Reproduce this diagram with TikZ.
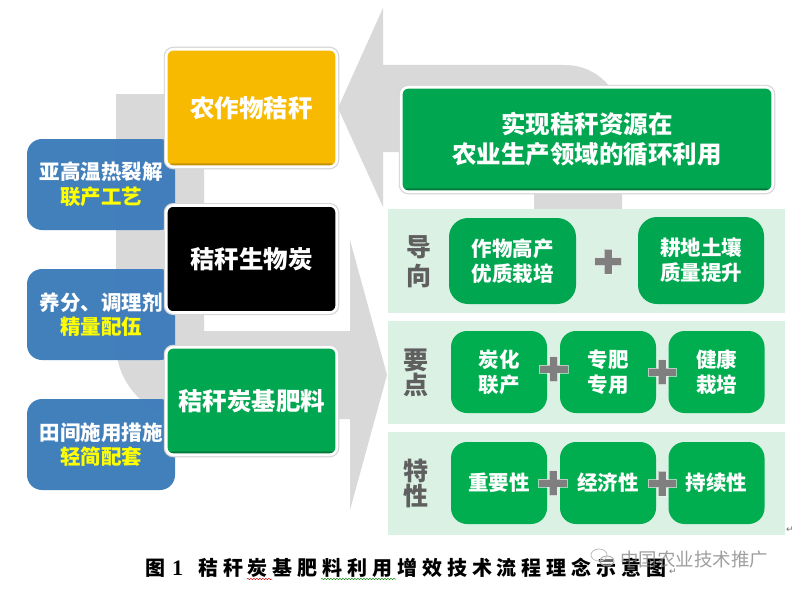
\documentclass[tikz,border=0pt]{standalone}
\usepackage{fontspec}
\setmainfont{Liberation Serif}
\newfontfamily\cjk{Noto Sans CJK SC}
\newfontfamily\capfont[LetterSpace=24.5]{Noto Sans CJK SC}
\newfontfamily\symfont{DejaVu Sans}
\usetikzlibrary{decorations.pathmorphing}
\definecolor{arrowgray}{HTML}{D9D9D9}
\definecolor{panelgreen}{HTML}{DAF1E3}
\definecolor{boxgreen}{HTML}{00AE50}
\definecolor{boxgreenb}{HTML}{00A750}
\definecolor{bevelgreen}{HTML}{007A3A}
\definecolor{boxyellow}{HTML}{F7BA00}
\definecolor{bevelyellow}{HTML}{C49200}
\definecolor{boxblue}{HTML}{3B7BBA}
\definecolor{labelgray}{HTML}{5F5F5F}
\definecolor{plusgray}{HTML}{7F7F7F}
\definecolor{hiyellow}{HTML}{FFFF00}
\tikzset{
  x=1pt,y=-1pt,
  bevelbox/.style n args={3}{draw=white,line width=2.6pt,rounded corners=7pt,
    preaction={draw=black!16,line width=5pt},
    fill=#1,inner sep=0pt,minimum width=#2,minimum height=#3,align=center,
    text=white,font=\cjk\bfseries\fontsize{24.5}{30}\selectfont},
  bevel/.style={path picture={\fill[#1] ([yshift=3.5pt]path picture bounding box.south west) rectangle (path picture bounding box.south east);}},
  bluebox/.style={fill=boxblue,fill opacity=.96,text opacity=1,rounded corners=15pt,inner sep=0pt,
    minimum width=148pt,minimum height=91pt,align=center,text=white,
    font=\cjk\bfseries\fontsize{20.5}{24.5}\selectfont},
  panel/.style={fill=panelgreen,inner sep=0pt,minimum width=397pt,minimum height=#1},
  itembox/.style n args={4}{fill=#1,rounded corners=#4,inner sep=0pt,minimum width=#2,minimum height=#3,
    align=center,text=white,font=\cjk\bfseries\fontsize{20.5}{25}\selectfont},
  sidelabel/.style={text=labelgray,inner sep=0pt,align=center,font=\cjk\bfseries\fontsize{25}{#1}\selectfont},
  note/.style={text=black!55,inner sep=0pt,font=\symfont\fontsize{9}{9}\selectfont},
}
\newcommand{\plusmark}[4]{%
  \fill[plusgray,draw=white,draw opacity=.55,line width=.7pt]
    (#1-#3/2,#2-4) -- (#1-4,#2-4) -- (#1-4,#2-#4/2) -- (#1+4,#2-#4/2) -- (#1+4,#2-4) -- (#1+#3/2,#2-4)
    -- (#1+#3/2,#2+4) -- (#1+4,#2+4) -- (#1+4,#2+#4/2) -- (#1-4,#2+#4/2) -- (#1-4,#2+4) -- (#1-#3/2,#2+4) -- cycle;}
\begin{document}
\begin{tikzpicture}
\useasboundingbox (0,0) rectangle (795,594);
\fill[white] (0,0) rectangle (795,594);
% gray circular arrow
\fill[arrowgray] (338,108) -- (383,8) -- (383,65) -- (565,65)
  .. controls (596.5,65) and (622,90.5) .. (622,122) -- (622,215) -- (534,215) -- (534,152) -- (383,152) -- (383,207) -- cycle;
\fill[arrowgray] (116,94) -- (204,94) -- (204,331) -- (350,331) -- (350,240) -- (387,375) -- (350,510) -- (350,419) -- (191,419)
  .. controls (149.6,419) and (116,385.4) .. (116,344) -- cycle;
% panels
\node[panel=104pt] (p1) at (586.5,261) {};
\node[panel=103pt] (p2) at (586.5,372.5) {};
\node[panel=103pt] (p3) at (586.5,483.5) {};
% blue boxes
\node[bluebox] (b1) at (101,184.5) {亚高温热裂解\\\textcolor{hiyellow}{联产工艺}};
\node[bluebox] (b2) at (101,314.5) {养分、调理剂\\\textcolor{hiyellow}{精量配伍}};
\node[bluebox] (b3) at (101,444.5) {田间施用措施\\\textcolor{hiyellow}{轻简配套}};
% main boxes
\node[bevelbox={boxyellow}{170.5pt}{117.5pt},bevel=bevelyellow] (m1) at (251.5,108) {农作物秸秆};
\node[bevelbox={black}{170.5pt}{107pt}] (m2) at (251.5,259) {秸秆生物炭};
\node[bevelbox={boxgreenb}{170.5pt}{107.5pt},bevel=bevelgreen] (m3) at (251.5,401) {秸秆炭基肥料};
\node[bevelbox={boxgreenb}{371.5pt}{104.5pt},bevel=bevelgreen] (top) at (587,139.5) {实现秸秆资源在\\农业生产领域的循环利用};
% row 1
\node[sidelabel=29] (s1) at (418.5,262) {导\\向};
\node[itembox={boxgreenb}{127pt}{86pt}{19pt}] (r1a) at (512.5,261) {作物高产\\优质栽培};
\node[itembox={boxgreenb}{126pt}{87pt}{19pt}] (r1b) at (701,260.5) {耕地土壤\\质量提升};
\plusmark{608}{261.5}{27}{25}
% row 2
\node[sidelabel=25] (s2) at (416,373) {要\\点};
\node[itembox={boxgreen}{96pt}{82pt}{16pt}] (r2a) at (499,372) {炭化\\联产};
\node[itembox={boxgreen}{96pt}{82pt}{16pt}] (r2b) at (608,372) {专肥\\专用};
\node[itembox={boxgreen}{96pt}{82pt}{16pt}] (r2c) at (716.5,372) {健康\\栽培};
\plusmark{553.5}{369}{29}{25}
\plusmark{662}{372}{28}{25}
% row 3
\node[sidelabel=25] (s3) at (416,483) {特\\性};
\node[itembox={boxgreen}{96pt}{82pt}{16pt}] (r3a) at (499,483) {重要性};
\node[itembox={boxgreen}{96pt}{82pt}{16pt}] (r3b) at (608,483) {经济性};
\node[itembox={boxgreen}{96pt}{82pt}{16pt}] (r3c) at (716.5,483) {持续性};
\plusmark{553}{483}{29}{25}
\plusmark{662}{483.5}{28}{25}
% caption
\node[inner sep=0pt,anchor=west,font=\capfont\bfseries\fontsize{20}{24}\selectfont] (cap) at (145,568)
  {图\hspace{7pt}{\rmfamily\bfseries\fontsize{22}{24}\selectfont 1}\hspace{15pt}秸秆炭基肥料利用增效技术流程理念示意图};
\draw[red!80!black,line width=.5pt,decorate,decoration={snake,amplitude=.6pt,segment length=3pt}] (247,579) -- (272,579);
\draw[green!50!black,line width=.5pt,decorate,decoration={snake,amplitude=.6pt,segment length=3pt}] (321,579) -- (396,579);
% watermark
\draw[black!25,line width=.8pt] (599,555) ellipse (8pt and 6pt);
\draw[black!35,line width=.8pt,fill=white,fill opacity=.4] (607,561) ellipse (7pt and 5pt);
\node[inner sep=0pt,text=black!50,opacity=.75,font=\cjk\fontsize{18.5}{20}\selectfont] (wm) at (694,560) {中国农业技术推广};
% paragraph marks
\node[note] (pm1) at (790,530) {↵};
\node[note] (pm2) at (673,572) {↵};
\end{tikzpicture}
\end{document}
